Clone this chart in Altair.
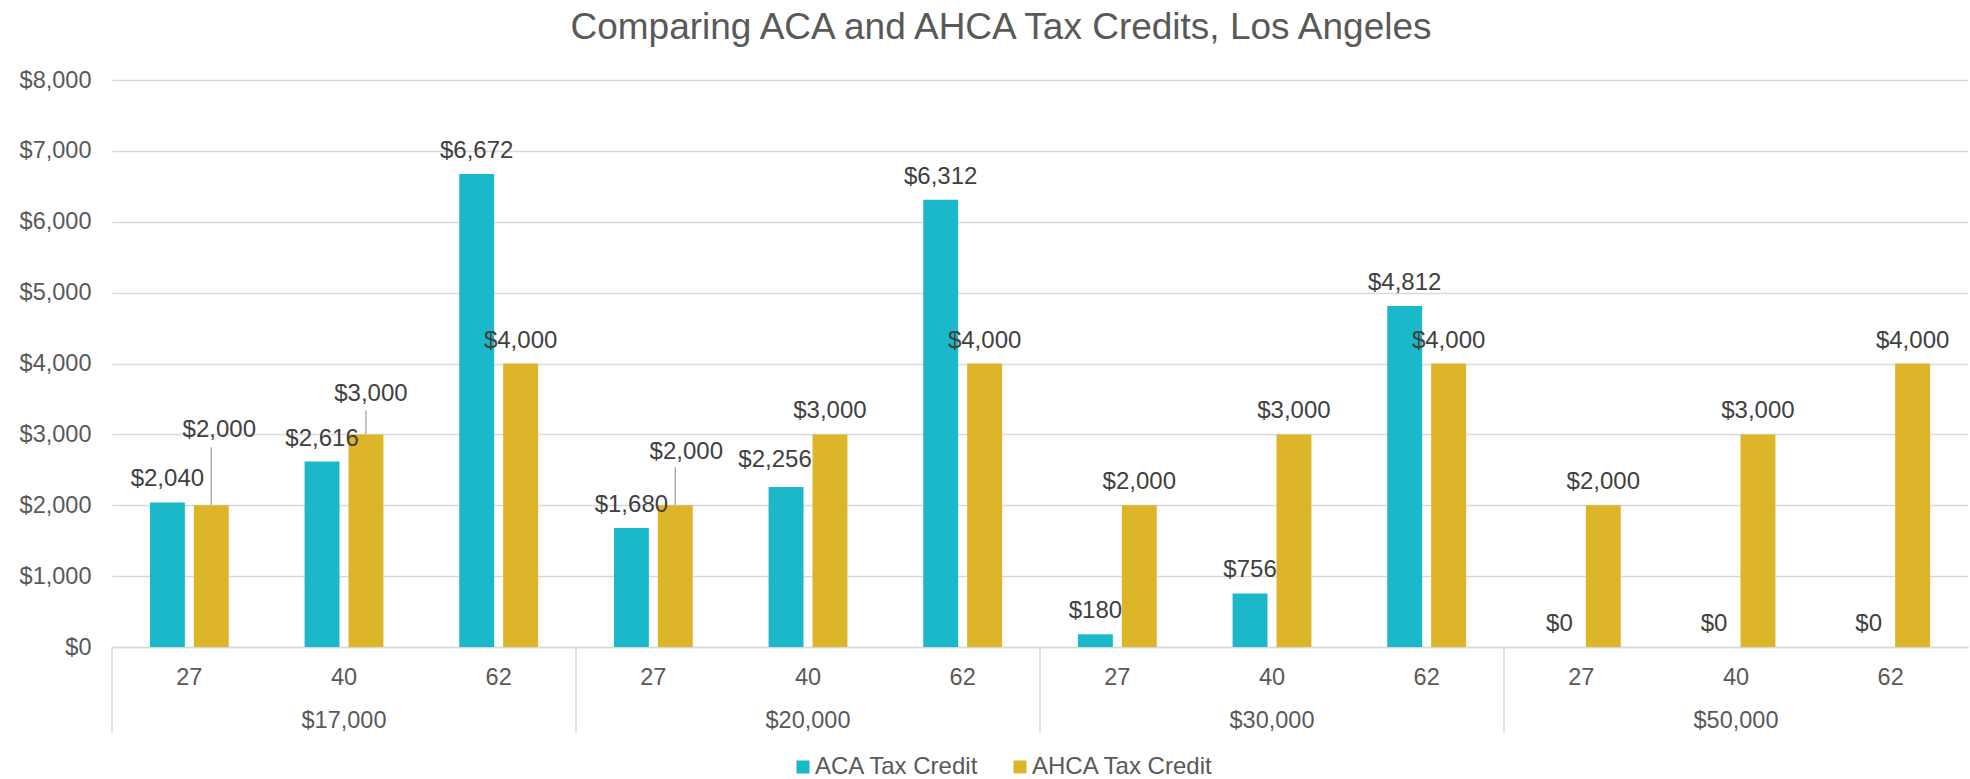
import altair as alt
import pandas as pd

# ---- data ----
incomes = ["$17,000", "$20,000", "$30,000", "$50,000"]
ages = ["27", "40", "62"]
series_names = ["ACA Tax Credit", "AHCA Tax Credit"]
aca_credit = [2040, 2616, 6672, 1680, 2256, 6312, 180, 756, 4812, 0, 0, 0]
ahca_credit = [2000, 3000, 4000, 2000, 3000, 4000, 2000, 3000, 4000, 2000, 3000, 4000]

# ---- styling ----
TEAL = "#1AB8C8"
GOLD = "#DCB528"
GRID = "#D9D9D9"
AXIS_TXT = "#595959"
LBL_TXT = "#404040"
FONT = "Liberation Sans"
PLOT_W, PLOT_H = 1856, 567

# label placement tweaks (Excel moved these labels to avoid collisions)
# (income, age, series, dx, dy, leader length in px)
label_nudges = [
    ("$17,000", "27", "AHCA Tax Credit", 8, -68, 58),
    ("$17,000", "40", "AHCA Tax Credit", 5, -33, 24),
    ("$20,000", "27", "AHCA Tax Credit", 11, -46, 38),
    ("$20,000", "40", "ACA Tax Credit", -11, -20, 0),
]

rows = []
keys = []
for i, inc in enumerate(incomes):
    for j, age in enumerate(ages):
        k = i * len(ages) + j
        key = f"{inc}|{age}"
        keys.append(key)
        rows.append({"key": key, "income": inc, "age": age, "series": series_names[0], "value": aca_credit[k]})
        rows.append({"key": key, "income": inc, "age": age, "series": series_names[1], "value": ahca_credit[k]})
df = pd.DataFrame(rows)

base = alt.Chart(df)

x_axis = alt.Axis(
    title=None,
    labelExpr="split(datum.value, '|')[1] == '40' ? ['40', split(datum.value, '|')[0]] : split(datum.value, '|')[1]",
    labelAngle=0,
    labelBaseline="top",
    labelLineHeight=43,
    labelPadding=18,
    labelFontSize=23.5,
    labelColor=AXIS_TXT,
    labelFont=FONT,
    labelOverlap=False,
    ticks=False,
    domainColor=GRID,
    domainWidth=1.5,
    grid=False,
)
y_axis = alt.Axis(
    title=None,
    values=list(range(0, 8001, 1000)),
    format="$,.0f",
    labelFontSize=23.5,
    labelColor=AXIS_TXT,
    labelFont=FONT,
    labelPadding=21,
    domain=False,
    ticks=False,
    gridColor=GRID,
    gridWidth=1.5,
)

X = alt.X("key:N", sort=keys, scale=alt.Scale(paddingInner=0, paddingOuter=0), axis=x_axis)
XO = alt.XOffset("series:N", sort=series_names,
                 scale=alt.Scale(paddingInner=0.2045, paddingOuter=0.8636))
Y = alt.Y("value:Q", scale=alt.Scale(domain=[0, 8000], nice=False), axis=y_axis)

bars = base.mark_bar().encode(
    x=X,
    xOffset=XO,
    y=Y,
    color=alt.Color(
        "series:N",
        sort=series_names,
        scale=alt.Scale(domain=series_names, range=[TEAL, GOLD]),
        legend=alt.Legend(
            title=None,
            orient="none",
            legendX=679,
            legendY=675,
            direction="horizontal",
            symbolType="square",
            symbolSize=169,
            symbolStrokeWidth=0,
            labelFontSize=24,
            labelFont=FONT,
            labelColor=AXIS_TXT,
            labelOffset=0,
            labelLimit=0,
            columnPadding=28,
            padding=0,
        ),
    ),
)

def sel(inc, age, ser):
    return f"(datum.income == '{inc}' && datum.age == '{age}' && datum.series == '{ser}')"

not_nudged = " && ".join("!" + sel(n[0], n[1], n[2]) for n in label_nudges)

text_kw = dict(fontSize=24, font=FONT, color=LBL_TXT, align="center", baseline="alphabetic")
XT = alt.X("key:N", sort=keys, axis=x_axis)
XOT = alt.XOffset("series:N", sort=series_names)
YT = alt.Y("value:Q", axis=y_axis)

labels = base.transform_filter(not_nudged).mark_text(dy=-16, **text_kw).encode(
    x=XT, xOffset=XOT, y=YT,
    text=alt.Text("value:Q", format="$,.0f"),
)

layers = [bars, labels]
for inc, age, ser, dx, dy, lead in label_nudges:
    one = base.transform_filter(sel(inc, age, ser))
    layers.append(
        one.mark_text(dx=dx, dy=dy, **text_kw).encode(
            x=XT, xOffset=XOT, y=YT,
            text=alt.Text("value:Q", format="$,.0f"),
        )
    )
    if lead > 0:
        layers.append(
            one.transform_calculate(top=f"datum.value + {lead} * 8000 / {PLOT_H}")
            .mark_rule(color="#A6A6A6", strokeWidth=1.3)
            .encode(x=XT, xOffset=XOT, y=YT, y2="top:Q")
        )

separators = base.transform_filter(
    f"datum.age == '{ages[0]}' && datum.series == '{series_names[0]}'"
).mark_rule(color=GRID, strokeWidth=1.5).encode(
    x=alt.X("key:N", sort=keys, bandPosition=0, axis=x_axis),
    y=alt.value(PLOT_H),
    y2=alt.value(PLOT_H + 86),
)
layers.append(separators)

chart = (
    alt.layer(*layers)
    .properties(
        width=PLOT_W,
        height=PLOT_H,
        title=alt.Title(
            "Comparing ACA and AHCA Tax Credits, Los Angeles",
            fontSize=37,
            font=FONT,
            fontWeight="normal",
            color=AXIS_TXT,
            anchor="middle",
            frame="group",
            offset=21,
            dx=-39,
        ),
        autosize=alt.AutoSizeParams(type="none"),
        padding={"left": 112, "top": 80, "right": 2, "bottom": 132},
    )
    .configure(font=FONT)
    .configure_view(stroke=None)
    .configure_axisY(domain=False, ticks=False)
)

chart.save("out.html", embed_options={"renderer": "svg", "actions": False})
